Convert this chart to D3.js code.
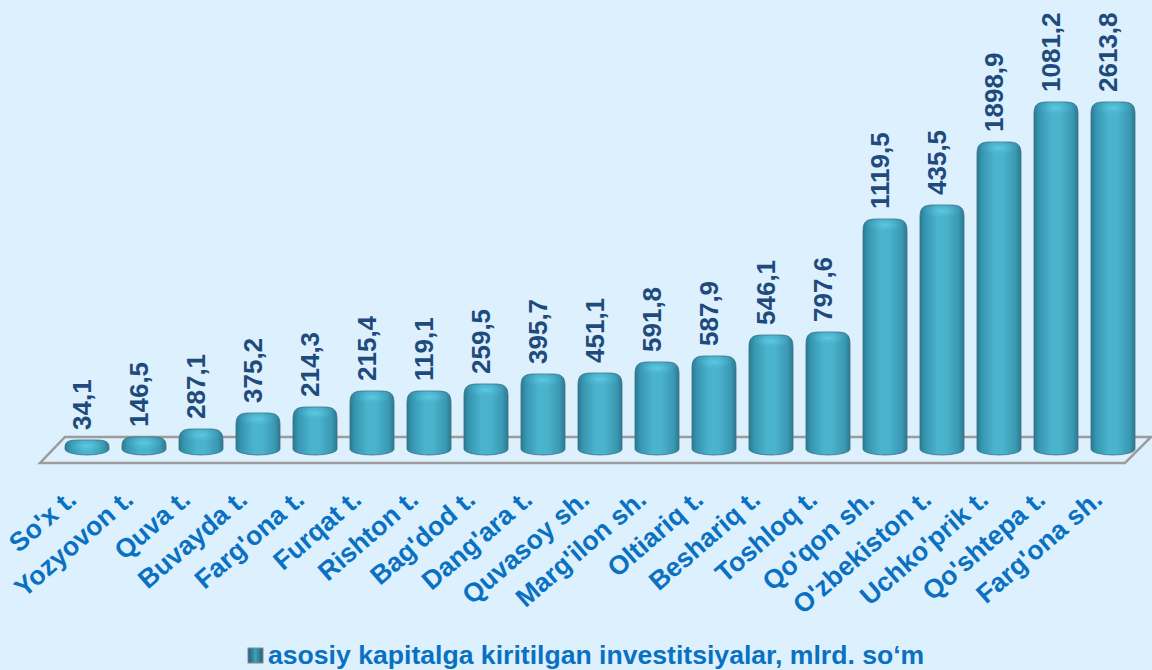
<!DOCTYPE html>
<html>
<head>
<meta charset="utf-8">
<script src="https://cdn.jsdelivr.net/npm/d3@7"></script>
<style>
  html, body { margin: 0; padding: 0; background: #dcf0fd; }
  svg { display: block; }
  text { font-family: "Liberation Sans", Arial, sans-serif; font-weight: bold; }
</style>
</head>
<body>
<div id="chart"></div>
<script>

// categories (districts / cities)
const categories = ["So'x t.", "Yozyovon t.", "Quva t.", "Buvayda t.", "Farg'ona t.", "Furqat t.",
    "Rishton t.", "Bag'dod t.", "Dang'ara t.", "Quvasoy sh.", "Marg'ilon sh.", "Oltiariq t.",
    "Beshariq t.", "Toshloq t.", "Qo'qon sh.", "O'zbekiston t.", "Uchko'prik t.", "Qo'shtepa t.", "Farg'ona sh."];

// printed data labels (as in the source)
const valueLabels = ["34,1", "146,5", "287,1", "375,2", "214,3", "215,4", "119,1", "259,5", "395,7",
    "451,1", "591,8", "587,9", "546,1", "797,6", "1119,5", "435,5", "1898,9", "1081,2", "2613,8"];

// bar heights as drawn in the source (they don't follow the printed labels)
const barHeights = [15, 18, 26, 42, 48, 64, 64, 71, 81, 82, 93, 99, 120, 123, 236, 250, 313, 353, 353];

const legendText = "asosiy kapitalga kiritilgan investitsiyalar, mlrd. so\u2018m";

const W = 1152, H = 670;
const baseY = 449;     // centre of the bar bottoms
const floorFront = 463, floorBack = 437;

let svg = d3.select("#chart").append("svg")
    .attr("width", W)
    .attr("height", H);

svg.append("rect").attr("width", W).attr("height", H).attr("fill", "#dcf0fd");

let defs = svg.append("defs");

let grad = defs.append("linearGradient")
    .attr("id", "cyl")
    .attr("x1", "0%").attr("x2", "100%").attr("y1", "0%").attr("y2", "0%");
[[0, "#2a7b93"], [0.12, "#3796b1"], [0.4, "#4bb3cd"], [0.6, "#4ab2cc"], [0.88, "#3a98b2"], [1, "#2a7a92"]]
    .forEach(s => grad.append("stop").attr("offset", s[0]).attr("stop-color", s[1]));

let capGrad = defs.append("radialGradient")
    .attr("id", "cap")
    .attr("cx", "50%").attr("cy", "50%").attr("r", "50%");
capGrad.append("stop").attr("offset", 0).attr("stop-color", "#5fcbe6").attr("stop-opacity", 0.95);
capGrad.append("stop").attr("offset", 1).attr("stop-color", "#4bb5cf").attr("stop-opacity", 0);

let legGrad = defs.append("linearGradient")
    .attr("id", "leg")
    .attr("x1", "0%").attr("x2", "100%");
[[0, "#1f5f73"], [0.5, "#3fa0b8"], [1, "#1f5f73"]]
    .forEach(s => legGrad.append("stop").attr("offset", s[0]).attr("stop-color", s[1]));

// scales
let xScale = d3.scaleBand()
    .domain(categories)
    .range([58.5, 1141.5])
    .paddingInner(0.228)
    .paddingOuter(0.114);

let yScale = d3.scaleLinear()
    .domain([0, 360])
    .range([455, 95]);

// floor (3d plane outline)
let fl = 40, fr = 1125, off = 26;
svg.append("path")
    .attr("d", `M${fl},${floorFront} L${fr},${floorFront} L${fr + off},${floorBack} L${fl + off - 1},${floorBack} Z`)
    .attr("fill", "none")
    .attr("stroke", "#9c9c9c")
    .attr("stroke-width", 2.5);

let data = categories.map((c, i) => ({ key: c, h: barHeights[i], label: valueLabels[i] }));

function barPath(d) {
    let L = xScale(d.key), w = xScale.bandwidth(), R = L + w;
    let top = yScale(d.h);
    let ry = 6;
    let r = Math.min(12, (baseY + ry - top) / 2);
    let yc = Math.min(top + r, baseY);
    let k = Math.min(14, w / 2);
    return `M${L},${baseY} L${L},${yc}` +
        ` C${L},${top + r * 0.15} ${L + k * 0.3},${top} ${L + k},${top}` +
        ` L${R - k},${top}` +
        ` C${R - k * 0.3},${top} ${R},${top + r * 0.15} ${R},${yc}` +
        ` L${R},${baseY} A${w / 2},${ry} 0 0 1 ${L},${baseY} Z`;
}

let bars = svg.append("g").attr("class", "bars");

bars.selectAll(".bar")
    .data(data)
    .enter()
    .append("path")
    .attr("class", "bar")
    .attr("d", barPath)
    .attr("fill", "url(#cyl)")
    .attr("stroke", "#3d6f80")
    .attr("stroke-width", 0.8);

// highlight on the rounded top
bars.selectAll(".cap")
    .data(data)
    .enter()
    .append("ellipse")
    .attr("class", "cap")
    .attr("cx", d => xScale(d.key) + xScale.bandwidth() / 2)
    .attr("cy", d => yScale(d.h) + 6)
    .attr("rx", xScale.bandwidth() / 2 - 4)
    .attr("ry", d => Math.min(7, (baseY + 6 - yScale(d.h)) / 2))
    .attr("fill", "url(#cap)");

// value labels (rotated)
svg.selectAll(".vlabel")
    .data(data)
    .enter()
    .append("text")
    .attr("class", "vlabel")
    .attr("transform", d => `translate(${xScale(d.key) + xScale.bandwidth() / 2 + 4},${yScale(d.h) - 10}) rotate(-90)`)
    .attr("text-anchor", "start")
    .attr("font-size", 26)
    .attr("fill", "#1f4a7c")
    .text(d => d.label);

// category labels
svg.selectAll(".clabel")
    .data(data)
    .enter()
    .append("text")
    .attr("class", "clabel")
    .attr("transform", d => `translate(${xScale(d.key) + xScale.bandwidth() / 2 - 9},${502}) rotate(-41)`)
    .attr("text-anchor", "end")
    .attr("font-size", 26.5)
    .attr("fill", "#0a70c2")
    .text(d => d.key);

// legend
let legend = svg.append("g").attr("transform", "translate(248,664)");
legend.append("rect")
    .attr("x", 0).attr("y", -16)
    .attr("width", 15).attr("height", 15)
    .attr("fill", "url(#leg)")
    .attr("stroke", "#8a8a8a")
    .attr("stroke-width", 1);
legend.append("text")
    .attr("x", 20).attr("y", 0)
    .attr("font-size", 26.6)
    .attr("fill", "#0a70c2")
    .text(legendText);

</script>
</body>
</html>
